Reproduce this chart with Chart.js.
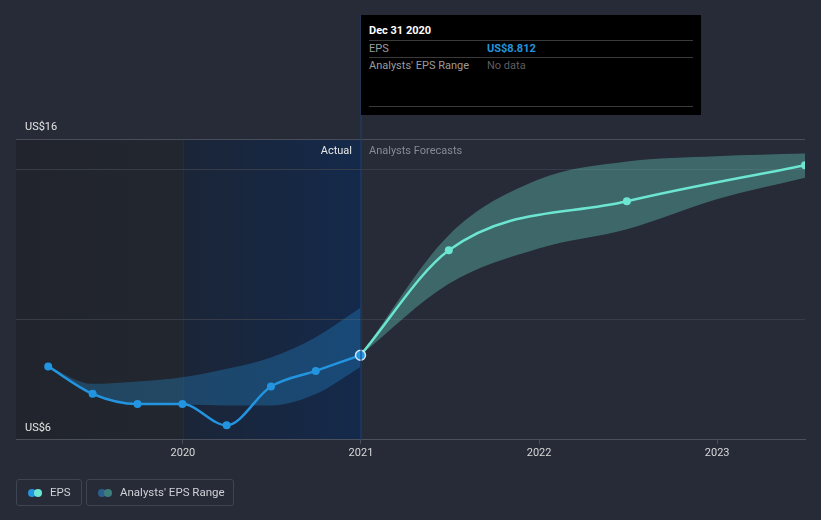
<!DOCTYPE html>
<html>
<head>
<meta charset="utf-8">
<script src="https://cdn.jsdelivr.net/npm/chart.js@4/dist/chart.umd.min.js"></script>
<style>
  html,body{margin:0;padding:0;background:#262b37;}
  #wrap{position:relative;width:821px;height:520px;overflow:hidden;font-family:Roboto,"Noto Sans",sans-serif;}
  #c{position:absolute;left:0;top:0;}
  .tip{position:absolute;left:361px;top:15px;width:340px;height:100px;background:#000;font-size:11px;}
  .tip div{position:absolute;white-space:nowrap;}
  .hr{left:8px;width:324px;height:1px;background:#3a3a3a;}
  .leg{position:absolute;top:479px;height:25px;border:1px solid #3e4451;border-radius:3px;font-size:11.5px;color:#cfd2d6;}
  .leg span{position:absolute;}
  .dot{width:8px;height:8px;border-radius:50%;top:8.5px;}
</style>
</head>
<body>
<div id="wrap">
  <canvas id="c" width="821" height="520"></canvas>
  <div class="tip">
    <div style="left:8px;top:9px;line-height:14px;font-weight:bold;color:#fff;">Dec 31 2020</div>
    <div class="hr" style="top:25px;"></div>
    <div style="left:8px;top:26px;line-height:16px;color:#9c9c9c;">EPS</div>
    <div style="left:126px;top:26px;line-height:16px;color:#2394df;font-weight:bold;">US$8.812</div>
    <div class="hr" style="top:42px;"></div>
    <div style="left:8px;top:43px;line-height:16px;color:#9c9c9c;">Analysts' EPS Range</div>
    <div style="left:126px;top:43px;line-height:16px;color:#5e5e5e;">No data</div>
    <div class="hr" style="top:91px;"></div>
  </div>
  <div class="leg" style="left:16px;width:64px;">
    <span class="dot" style="left:11px;background:#2394df;"></span>
    <span class="dot" style="left:16.5px;background:#6ce5d1;"></span>
    <span style="left:33px;top:5px;line-height:15px;">EPS</span>
  </div>
  <div class="leg" style="left:86px;width:146px;">
    <span class="dot" style="left:11px;background:#2a5f8d;"></span>
    <span class="dot" style="left:17px;background:#3e7e7a;"></span>
    <span style="left:33px;top:5px;line-height:15px;">Analysts' EPS Range</span>
  </div>
</div>
<script>
// ---- data ----
const actualDates  = ['2019-03-31','2019-06-30','2019-09-30','2019-12-31','2020-03-31','2020-06-30','2020-09-30','2020-12-31'];
const actualEPS    = [8.44, 7.53, 7.19, 7.19, 6.48, 7.77, 8.29, 8.812];
const pastRangeHigh = [8.44, 7.86, 7.94, 8.08, 8.36, 8.74, 9.41, 10.39];
const pastRangeLow  = [8.44, 7.47, 7.20, 7.17, 7.14, 7.14, 7.52, 8.42];

const forecastDates = ['2020-12-31','2021-06-30','2022-06-30','2023-06-30'];
const forecastEPS   = [8.812, 12.3, 13.93, 15.13];

const rangeDates = ['2020-12-31','2021-06-30','2021-12-31','2022-06-30','2022-12-31','2023-06-30'];
const rangeHigh  = [8.812, 12.8, 14.65, 15.25, 15.43, 15.52];
const rangeLow   = [8.812, 11.19, 12.36, 13.0, 14.0, 14.71];

const xTickYears = [2020, 2021, 2022, 2023];
const xTickLabels = ['2020', '2021', '2022', '2023'];
const yGridValues = [6, 10, 15, 16];
const yLabelValues = [6, 16];
const yLabels = ['US$6', 'US$16'];
const xMinDate = '2019-01-24';
const xMaxDate = '2023-06-30';
const actualEndYear = 2021;
const highlightStartYear = 2020;

// ---- helpers ----
function fy(s){
  const [y,m,d] = s.split('-').map(Number);
  const a = Date.UTC(y,0,1), b = Date.UTC(y+1,0,1);
  return y + (Date.UTC(y,m-1,d) - a) / (b - a);
}
const pts = (dates, vals) => dates.map((d,i) => ({x: fy(d), y: vals[i]}));

const FONT = 'Roboto, "Noto Sans", sans-serif';

const decor = {
  id: 'decor',
  beforeDraw(chart){
    const {ctx, chartArea: ca, scales:{x}} = chart;
    const x20 = x.getPixelForValue(highlightStartYear);
    const x21 = x.getPixelForValue(actualEndYear);
    ctx.save();
    let g = ctx.createLinearGradient(ca.left, 0, x20, 0);
    g.addColorStop(0, '#21242c');
    g.addColorStop(1, '#22272f');
    ctx.fillStyle = g;
    ctx.fillRect(ca.left, ca.top, x20 - ca.left, ca.bottom - ca.top);
    g = ctx.createLinearGradient(x20, 0, x21, 0);
    g.addColorStop(0, '#1b2537');
    g.addColorStop(1, '#14294b');
    ctx.fillStyle = g;
    ctx.fillRect(x20, ca.top, x21 - x20, ca.bottom - ca.top);
    ctx.fillStyle = 'rgba(35,65,110,0.3)';
    ctx.fillRect(Math.round(x20), ca.top, 1, ca.bottom - ca.top);
    ctx.restore();
  },
  afterDraw(chart){
    const {ctx, chartArea: ca, scales:{x, y}} = chart;
    const x21 = x.getPixelForValue(actualEndYear);
    ctx.save();
    ctx.fillStyle = '#1e4271';
    ctx.fillRect(Math.round(x21) - 0.5, 15, 1, ca.bottom - 15);
    ctx.font = '11px ' + FONT;
    ctx.textBaseline = 'middle';
    ctx.fillStyle = '#e6e6e6';
    yLabelValues.forEach((v,i) => {
      ctx.textAlign = 'left';
      ctx.fillText(yLabels[i], ca.left + 9, y.getPixelForValue(v) - 12);
    });
    ctx.textAlign = 'right';
    ctx.fillStyle = '#e8e8e8';
    ctx.fillText('Actual', x21 - 9, ca.top + 12);
    ctx.textAlign = 'left';
    ctx.fillStyle = '#858b95';
    ctx.fillText('Analysts Forecasts', x21 + 8, ca.top + 12);
    ctx.restore();
  }
};

const actualPointRadius = actualEPS.map((v,i) => i === actualEPS.length - 1 ? 5 : 4);
const actualPointBorder = actualEPS.map((v,i) => i === actualEPS.length - 1 ? 'rgba(230,240,255,0.9)' : '#2394df');
const actualPointBorderW = actualEPS.map((v,i) => i === actualEPS.length - 1 ? 1.5 : 0);

new Chart(document.getElementById('c'), {
  type: 'line',
  data: {
    datasets: [
      { label: 'EPS', data: pts(actualDates, actualEPS), borderColor: '#2394df', borderWidth: 2.5,
        pointRadius: actualPointRadius, pointBackgroundColor: '#2394df', pointBorderColor: actualPointBorder,
        pointBorderWidth: actualPointBorderW, cubicInterpolationMode: 'monotone', fill: false, clip: 0 },
      { label: 'EPS forecast', data: pts(forecastDates, forecastEPS), borderColor: '#6ce5d1', borderWidth: 2.5,
        pointRadius: forecastEPS.map((v,i) => i === 0 ? 0 : 4), pointBackgroundColor: '#6ce5d1', pointBorderWidth: 0,
        cubicInterpolationMode: 'monotone', fill: false, clip: 0 },
      { label: 'past high', data: pts(actualDates, pastRangeHigh), borderWidth: 0, pointRadius: 0,
        cubicInterpolationMode: 'monotone', fill: {target: 3}, backgroundColor: 'rgba(35,148,223,0.30)', clip: 0 },
      { label: 'past low', data: pts(actualDates, pastRangeLow), borderWidth: 0, pointRadius: 0,
        cubicInterpolationMode: 'monotone', fill: false, clip: 0 },
      { label: 'range high', data: pts(rangeDates, rangeHigh), borderWidth: 0, pointRadius: 0,
        cubicInterpolationMode: 'monotone', fill: {target: 5}, backgroundColor: 'rgba(108,229,209,0.33)', clip: 0 },
      { label: 'range low', data: pts(rangeDates, rangeLow), borderWidth: 0, pointRadius: 0,
        cubicInterpolationMode: 'monotone', fill: false, clip: 0 }
    ]
  },
  options: {
    responsive: false,
    animation: false,
    events: [],
    layout: { padding: { left: 16, right: 16, top: 139, bottom: 57 } },
    plugins: { legend: { display: false }, tooltip: { enabled: false } },
    scales: {
      x: {
        type: 'linear',
        min: fy(xMinDate), max: fy(xMaxDate),
        afterBuildTicks: s => { s.ticks = xTickYears.map(v => ({value: v})); },
        ticks: {
          callback: (v) => xTickLabels[xTickYears.indexOf(v)],
          color: '#d8d8d8', font: { family: FONT, size: 11 }, padding: 3, maxRotation: 0, autoSkip: false
        },
        grid: { drawOnChartArea: false, drawTicks: true, tickLength: 4, color: '#4a505c' },
        border: { display: true, color: '#4a505c', width: 1 }
      },
      y: {
        type: 'linear', min: 6, max: 16,
        afterBuildTicks: s => { s.ticks = yGridValues.map(v => ({value: v})); },
        ticks: { display: false },
        grid: { drawTicks: false, color: ctx => ctx.tick && ctx.tick.value === 16 ? '#474d59' : '#363c48', lineWidth: 1 },
        border: { display: false }
      }
    }
  },
  plugins: [decor]
});
</script>
</body>
</html>
